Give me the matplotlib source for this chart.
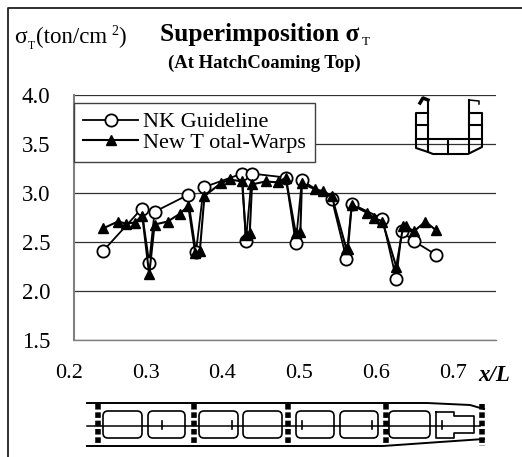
import matplotlib
matplotlib.use("Agg")
import matplotlib.pyplot as plt
from matplotlib.patches import FancyBboxPatch
from matplotlib.transforms import ScaledTranslation

plt.rcParams["font.family"] = ["Liberation Serif", "DejaVu Serif"]

nk_x = [0.238, 0.288, 0.298, 0.305, 0.348, 0.359, 0.369, 0.419, 0.424, 0.432, 0.476,
        0.489, 0.497, 0.536, 0.555, 0.562, 0.602, 0.620, 0.627, 0.643, 0.672]
nk_y = [2.41, 2.84, 2.29, 2.81, 2.98, 2.40, 3.06, 3.20, 2.51, 3.20, 3.16,
        2.49, 3.13, 2.94, 2.33, 2.89, 2.74, 2.12, 2.61, 2.51, 2.37]

new_x = [0.238, 0.257, 0.268, 0.279, 0.289, 0.298, 0.305, 0.322, 0.338, 0.349, 0.358,
         0.364, 0.370, 0.391, 0.403, 0.419, 0.424, 0.429, 0.432, 0.450, 0.466, 0.476,
         0.489, 0.495, 0.497, 0.514, 0.525, 0.536, 0.555, 0.557, 0.562, 0.582, 0.591,
         0.602, 0.620, 0.629, 0.633, 0.643, 0.658, 0.672]
new_y = [2.64, 2.71, 2.69, 2.70, 2.77, 2.17, 2.68, 2.71, 2.79, 2.87, 2.39,
         2.41, 2.97, 3.10, 3.14, 3.12, 2.57, 2.59, 3.09, 3.12, 3.11, 3.16,
         2.59, 2.60, 3.10, 3.04, 3.02, 2.97, 2.43, 2.43, 2.88, 2.80, 2.75,
         2.71, 2.25, 2.66, 2.66, 2.61, 2.71, 2.62]

x_ticks = [0.2, 0.3, 0.4, 0.5, 0.6, 0.7]
y_ticks = [1.5, 2.0, 2.5, 3.0, 3.5, 4.0]

W, H = 522, 457
fig = plt.figure(figsize=(W / 100, H / 100), dpi=100)

ax = fig.add_axes([74 / W, 1 - 340 / H, 422 / W, 244.7 / H])
ax.set_xlim(0.2, 0.75)
ax.set_ylim(1.5, 4.0)
ax.set_xticks(x_ticks)
ax.set_yticks(y_ticks)
ax.set_xticklabels([f"{v:.1f}" for v in x_ticks], fontsize=16)
ax.set_yticklabels([f"{v:.1f}" for v in y_ticks], fontsize=16.5)
ax.tick_params(axis="x", length=0, pad=17)
ax.tick_params(axis="y", length=0, pad=17)
# x labels sit a little left of the true tick position in the original
shift = ScaledTranslation(-5 / 100, 0, fig.dpi_scale_trans)
for t in ax.get_xticklabels():
    t.set_transform(t.get_transform() + shift)
ax.grid(axis="y", color="#303030", lw=0.9)
ax.set_axisbelow(True)
for s in ["top", "right"]:
    ax.spines[s].set_visible(False)
ax.spines["left"].set_color("#808080")
ax.spines["left"].set_linewidth(1.5)
ax.spines["bottom"].set_color("#808080")
ax.spines["bottom"].set_linewidth(1)

ax.plot(nk_x, nk_y, "-o", color="black", lw=1.3, ms=8.8, mfc="white", mew=1.3, label="NK Guideline")
ax.plot(new_x, new_y, "-^", color="black", lw=1.5, ms=6.5, label="New T otal-Warps")

leg = ax.legend(loc="upper left", bbox_to_anchor=(0, 0.9686),
                fontsize=16, frameon=True, fancybox=False, framealpha=1, edgecolor="#404040",
                borderaxespad=0, borderpad=0.4, labelspacing=0.0, handlelength=2.5,
                handletextpad=0.2)
leg.get_frame().set_linewidth(1)

# overlay in pixel coordinates for the text and the little ship drawings
ov = fig.add_axes([0, 0, 1, 1])
ov.set_xlim(0, W)
ov.set_ylim(H, 0)
ov.axis("off")
ov.patch.set_alpha(0)

ov.text(14, 43, "σ", fontsize=17, va="baseline")
ov.text(28, 49, "T", fontsize=8.5, va="baseline")
ov.text(36, 43, "(ton/cm", fontsize=16.5, va="baseline")
ov.text(111, 35, "2", fontsize=10, va="baseline")
ov.text(118, 43, ")", fontsize=16.5, va="baseline")
ov.text(160, 41, "Superimposition σ", fontsize=18.3, weight="bold", va="baseline")
ov.text(362, 45, "T", fontsize=9.5, va="baseline")
ov.text(168, 68, "(At HatchCoaming Top)", fontsize=13.4, weight="bold", va="baseline")
ov.text(478, 381, "x/L", fontsize=16.5, weight="bold", style="italic", va="baseline")

# frame of the picture (left and top only)
ov.plot([8, 8, W], [H, 8, 8], color="#202020", lw=1.3)

# midship section icon
lw = 1.5
ov.plot([428, 428], [100, 152], color="k", lw=lw)
ov.plot([469, 469], [100, 152], color="k", lw=lw)
ov.plot([428, 416, 416, 428, 433, 468, 482, 482, 469], [113, 113, 148, 152, 154, 154, 147, 113, 113], color="k", lw=lw)
ov.plot([416, 482], [139, 139], color="k", lw=lw)
ov.plot([416, 428], [125, 125], color="k", lw=lw)
ov.plot([469, 482], [125, 125], color="k", lw=lw)
ov.plot([448, 448], [139, 154], color="k", lw=lw)
ov.plot([469, 479, 479], [100, 101, 104], color="k", lw=1.1)
ov.plot([420, 423, 428], [103, 98, 100], color="k", lw=2.5)

# ship plan icon
ov.plot([87, 427, 470, 484], [403, 403, 405, 409], color="k", lw=1.4)
ov.plot([87, 383, 440, 484], [446, 446, 442, 439], color="k", lw=1.4)
ov.plot([87, 480], [425.7, 425.7], color="k", lw=1.1)
for bx in [98, 194, 288, 386, 482]:
    ov.plot([bx, bx], [404, 446], color="k", lw=4, ls=(0, (1.0, 0.5)))
for left, right in [(103, 142), (148, 185), (199, 238), (243, 282), (296, 334), (340, 378), (389, 430)]:
    ov.add_patch(FancyBboxPatch((left, 411), right - left, 27, boxstyle="round,pad=0,rounding_size=5",
                                fc="none", ec="k", lw=1.2))
ov.plot([436, 454, 454, 474, 474, 454, 454, 436, 436], [412, 412, 416, 416, 433, 433, 438, 438, 412], color="k", lw=1.2)
for bx in [162, 232, 302, 372, 442]:
    ov.plot([bx, bx], [421, 429], color="k", lw=1.2)

fig.savefig("out.png", dpi=100)
